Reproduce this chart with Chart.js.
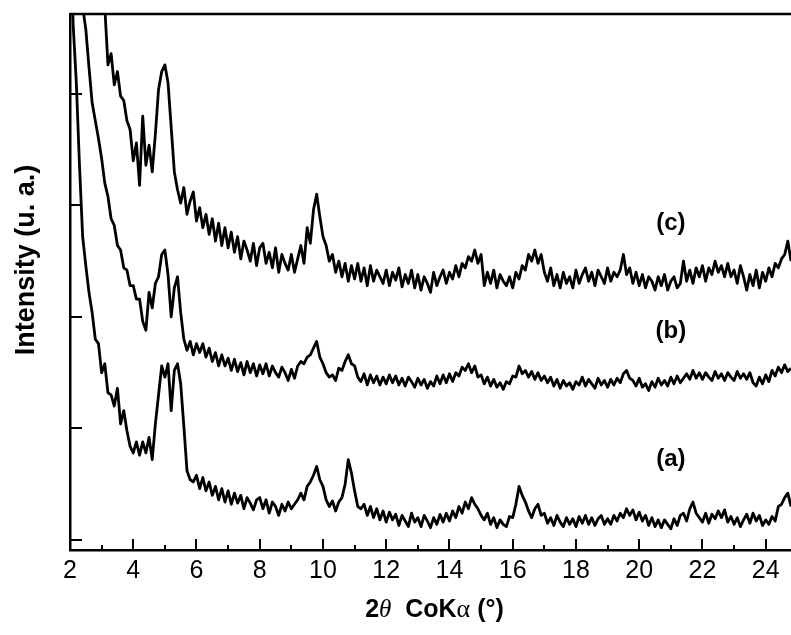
<!DOCTYPE html>
<html>
<head>
<meta charset="utf-8">
<title>XRD patterns</title>
<script src="https://cdn.jsdelivr.net/npm/chart.js@4.4.1/dist/chart.umd.min.js"></script>
<style>
  html, body { margin: 0; padding: 0; background: #fff; }
  #xrd { display: block; }
</style>
</head>
<body>
<canvas id="xrd" width="791" height="635"></canvas>
<script>
// scan grid: 2.0 deg upwards, one point every 0.1 deg (one row below = 1 deg)
const thetaStart = 2.0;
const thetaStep = 0.1;

// intensities, offset per sample
const patternA = [
  560, 462, 410, 336, 272, 246, 222, 204, 180, 176,
  150, 158, 132, 130, 120, 136, 104, 116, 98, 84,
  78, 88, 76, 88, 78, 92, 72, 104, 130, 156,
  146, 158, 116, 152, 158, 140, 102, 62, 54, 52,
  58, 46, 56, 44, 52, 40, 48, 36, 46, 34,
  44, 32, 42, 33, 40, 28, 38, 33, 27, 36,
  38, 28, 36, 24, 34, 30, 22, 32, 26, 34,
  28, 32, 36, 42, 36, 48, 52, 58, 66, 54,
  48, 36, 30, 35, 26, 34, 38, 50, 72, 60,
  44, 30, 28, 32, 22, 30, 20, 28, 18, 26,
  16, 25, 18, 23, 13, 22, 17, 12, 24, 16,
  20, 12, 22, 17, 11, 20, 14, 23, 16, 24,
  17, 26, 20, 30, 24, 34, 28, 38, 32, 28,
  22, 18, 24, 14, 20, 11, 18, 14, 12, 21,
  20, 32, 48, 40, 34, 26, 20, 28, 32, 22,
  24, 15, 20, 13, 22, 16, 12, 20, 14, 19,
  12, 21, 15, 22, 14, 20, 13, 19, 22, 14,
  19, 14, 22, 17, 24, 20, 28, 22, 27, 18,
  25, 17, 22, 13, 20, 12, 18, 11, 18, 14,
  10, 19, 13, 22, 24, 17, 28, 34, 24, 20,
  16, 24, 15, 23, 19, 26, 20, 27, 16, 21,
  14, 20, 12, 18, 23, 15, 24, 17, 22, 13,
  18, 14, 21, 17, 30, 32, 38, 42, 30, 34
];

const patternB = [
  620, 582, 546, 512, 478, 458, 424, 392, 376, 360,
  342, 320, 308, 288, 282, 264, 260, 244, 242, 228,
  228, 216, 216, 196, 188, 222, 208, 230, 236, 256,
  260, 238, 200, 226, 236, 204, 180, 170, 178, 166,
  176, 168, 176, 164, 172, 160, 168, 156, 166, 156,
  163, 152, 162, 151, 159, 148, 160, 150, 158, 147,
  157, 149, 158, 147, 156, 150, 146, 155, 150, 143,
  153, 145, 156, 160, 158, 164, 166, 172, 178, 164,
  158, 150, 146, 148, 143, 154, 152, 160, 166, 158,
  156, 146, 142, 149, 139, 148, 141, 147, 139, 146,
  140, 148, 141, 147, 139, 145, 138, 146, 142, 137,
  145, 139, 144, 136, 142, 138, 147, 140, 148, 141,
  149, 142, 150, 147, 155, 152, 158, 150, 156, 146,
  148, 140, 146, 138, 144, 137, 141, 135, 142, 140,
  147, 146, 156, 149, 152, 146, 151, 144, 150, 143,
  147, 141, 146, 138, 144, 136, 143, 138, 141, 135,
  142, 139, 146, 138, 144, 140, 136, 145, 139, 143,
  137, 144, 139, 145, 141, 149, 152, 145, 143, 138,
  145, 137, 140, 134, 142, 137, 145, 139, 143, 138,
  146, 140, 147, 141, 145, 149, 144, 152, 145, 150,
  144, 150, 146, 143, 151, 145, 149, 143, 150, 146,
  143, 151, 145, 149, 144, 150, 141, 138, 146, 140,
  148, 142, 152, 147, 155, 150, 157, 151, 154, 149
];

const patternC = [
  720, 690, 662, 640, 615, 598, 575, 560, 538, 520,
  505, 478, 426, 436, 408, 420, 398, 394, 376, 368,
  340, 356, 318, 380, 336, 354, 330, 364, 404, 420,
  426, 410, 370, 330, 314, 302, 316, 292, 304, 312,
  286, 298, 280, 292, 274, 288, 268, 284, 264, 280,
  262, 276, 258, 272, 252, 268, 260, 250, 266, 246,
  262, 266, 248, 258, 244, 262, 240, 256, 248, 242,
  256, 240, 252, 264, 248, 280, 266, 296, 310, 290,
  272, 264, 250, 256, 240, 250, 236, 248, 232, 246,
  234, 248, 232, 244, 228, 246, 232, 242, 236, 230,
  242, 228, 240, 233, 244, 227, 238, 230, 242, 226,
  238, 224, 236, 230, 222, 240, 228, 236, 242, 230,
  240, 234, 246, 236, 248, 244, 254, 250, 260, 248,
  256, 228, 240, 230, 242, 226, 238, 232, 228, 236,
  226, 240, 234, 246, 242, 256, 250, 260, 248, 256,
  240, 232, 244, 228, 238, 226, 240, 230, 236, 226,
  242, 230, 238, 244, 232, 240, 228, 242, 236, 230,
  244, 232, 240, 236, 242, 256, 238, 244, 230, 240,
  228, 238, 226, 236, 232, 224, 236, 228, 238, 224,
  232, 236, 226, 230, 250, 232, 242, 230, 244, 236,
  246, 232, 244, 238, 250, 240, 246, 236, 248, 236,
  242, 230, 246, 236, 224, 238, 228, 242, 226, 240,
  232, 244, 236, 248, 244, 252, 256, 268, 250, 258
];

// sample tags written next to each pattern
const sampleNames = ['(a)', '(b)', '(c)'];
const sampleTagX = 21.0;
const sampleTagY = [72, 187, 284];

const xTicks = [2, 4, 6, 8, 10, 12, 14, 16, 18, 20, 22, 24];
const yTicks = [0, 100, 200, 300, 400];

const FONT = "'Liberation Sans', Arial, Helvetica, sans-serif";
const SERIF = "'Liberation Serif', 'Times New Roman', serif";

function toPoints(values) {
  return values.map((v, i) => ({ x: +(thetaStart + i * thetaStep).toFixed(1), y: v }));
}

function lineSet(values) {
  return {
    data: toPoints(values),
    borderColor: '#000',
    borderWidth: 2.8,
    borderJoinStyle: 'round',
    pointRadius: 0,
    tension: 0,
    fill: false
  };
}

// inward ticks, top frame line, axis titles and sample tags
const decorations = {
  id: 'decorations',
  afterDraw(chart) {
    const ctx = chart.ctx;
    const area = chart.chartArea;
    const xs = chart.scales.x;
    const ys = chart.scales.y;
    ctx.save();
    ctx.strokeStyle = '#000';
    ctx.fillStyle = '#000';
    ctx.lineCap = 'butt';

    ctx.lineWidth = 2.5;
    ctx.beginPath();
    ctx.moveTo(area.left, area.top);
    ctx.lineTo(area.right, area.top);
    ctx.stroke();

    ctx.lineWidth = 2;
    for (let t = xTicks[0]; t <= xTicks[xTicks.length - 1]; t++) {
      const px = Math.round(xs.getPixelForValue(t));
      const len = xTicks.includes(t) ? 11 : 5;
      ctx.beginPath();
      ctx.moveTo(px, area.bottom);
      ctx.lineTo(px, area.bottom - len);
      ctx.stroke();
    }
    yTicks.forEach(v => {
      const py = Math.round(ys.getPixelForValue(v));
      ctx.beginPath();
      ctx.moveTo(area.left, py);
      ctx.lineTo(area.left + 12, py);
      ctx.stroke();
    });

    // sample tags
    ctx.font = 'bold 24px ' + FONT;
    ctx.textAlign = 'center';
    ctx.textBaseline = 'middle';
    sampleNames.forEach((name, i) => {
      ctx.fillText(name, xs.getPixelForValue(sampleTagX), ys.getPixelForValue(sampleTagY[i]));
    });

    // y title
    ctx.save();
    ctx.translate(27, 260);
    ctx.rotate(-Math.PI / 2);
    ctx.font = 'bold 27px ' + FONT;
    ctx.fillText('Intensity (u. a.)', 0, 0);
    ctx.restore();

    // x title: 2θ CoKα (°)
    const parts = [
      { t: '2', f: 'bold 25px ' + FONT },
      { t: 'θ', f: 'italic 25px ' + SERIF },
      { t: '  CoK', f: 'bold 25px ' + FONT },
      { t: 'α', f: '26px ' + SERIF },
      { t: ' (°)', f: 'bold 25px ' + FONT }
    ];
    let total = 0;
    parts.forEach(p => { ctx.font = p.f; p.w = ctx.measureText(p.t).width; total += p.w; });
    let cx = (area.left + area.right) / 2 + 4 - total / 2;
    ctx.textAlign = 'left';
    ctx.textBaseline = 'alphabetic';
    parts.forEach(p => {
      ctx.font = p.f;
      ctx.fillText(p.t, cx, 617);
      cx += p.w;
    });
    ctx.restore();
  }
};

new Chart(document.getElementById('xrd'), {
  type: 'line',
  data: {
    datasets: [lineSet(patternA), lineSet(patternB), lineSet(patternC)]
  },
  options: {
    responsive: false,
    animation: false,
    devicePixelRatio: 1,
    layout: { padding: { left: 70, top: 14, right: 0, bottom: 43 } },
    plugins: {
      legend: { display: false },
      tooltip: { enabled: false }
    },
    scales: {
      x: {
        type: 'linear',
        min: 2,
        max: 24.8,
        grid: { display: false, drawTicks: false, tickLength: 0 },
        border: { display: true, color: '#000', width: 2.5 },
        ticks: {
          stepSize: 2,
          includeBounds: false,
          autoSkip: false,
          maxRotation: 0,
          padding: 6,
          color: '#000',
          font: { family: FONT, size: 25 }
        }
      },
      y: {
        type: 'linear',
        min: -9,
        max: 471.6,
        grid: { display: false, drawTicks: false, tickLength: 0 },
        border: { display: true, color: '#000', width: 2.5 },
        ticks: { display: false }
      }
    }
  },
  plugins: [decorations]
});
</script>
</body>
</html>
